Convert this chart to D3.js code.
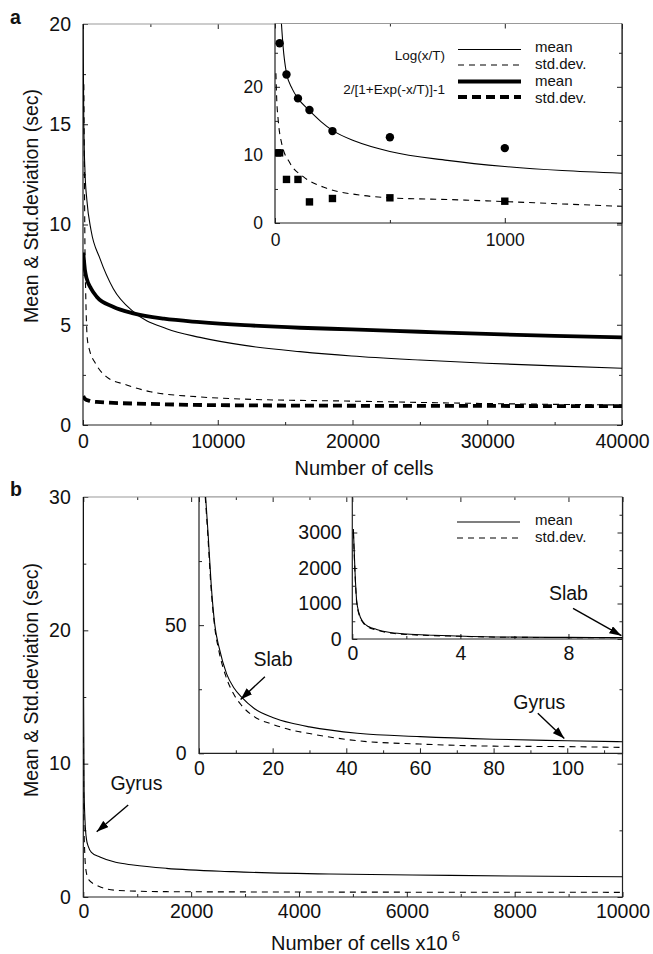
<!DOCTYPE html>
<html lang="en">
<head>
<meta charset="UTF-8">
<title>Mean and std.deviation vs number of cells</title>
<style>
  body { margin: 0; background: #fff; }
  svg { display: block; font-family: "Liberation Sans", Arial, Helvetica, sans-serif; }
</style>
</head>
<body>
<svg id="chart" width="653" height="954"></svg>
<script src="https://d3js.org/d3.v7.min.js"></script>
<script>

// ---------- panel a : main plot ----------
var aXTicks = [0, 10000, 20000, 30000, 40000],
    aXMinor = [5000, 15000, 25000, 35000],
    aYTicks = [0, 5, 10, 15, 20],
    aYMinor = [2.5, 7.5, 12.5, 17.5];

var aLogMean = [[8, 20], [25, 18], [60, 15], [150, 12.6], [290, 11.2], [600, 9.7], [1260, 8.3], [2250, 6.8],
    [3740, 5.65], [6210, 4.8], [8680, 4.37], [12000, 3.97], [16100, 3.66], [19940, 3.44], [25000, 3.24],
    [29900, 3.08], [35000, 2.95], [40000, 2.83]];
var aLogStd = [[60, 17], [100, 13], [150, 8.5], [200, 6.6], [320, 4.3], [500, 3.7], [900, 3.1], [1750, 2.4],
    [3240, 2.0], [5000, 1.66], [8680, 1.4], [12000, 1.29], [20000, 1.19], [30000, 1.07], [40000, 1.0]];
var aSigMean = [[20, 8.6], [60, 8.3], [150, 7.7], [275, 7.3], [600, 6.8], [1015, 6.4], [2230, 5.9],
    [3740, 5.57], [6000, 5.3], [8680, 5.13], [12000, 4.98], [16100, 4.85], [19940, 4.77], [25000, 4.65],
    [29900, 4.54], [35000, 4.45], [40000, 4.37]];
var aSigStd = [[20, 1.45], [150, 1.3], [500, 1.2], [1000, 1.15], [5000, 1.05], [10000, 0.99],
    [20000, 0.96], [30000, 0.95], [40000, 0.94]];

// ---------- panel a : inset ----------
var aiXTicks = [0, 1000], aiXMinor = [500],
    aiYTicks = [0, 10, 20], aiYMinor = [5, 15, 25];

var aiLogMean = [[28, 29.3], [35, 26], [50, 22], [75, 19.7], [100, 18.3], [150, 16.5], [200, 14.9],
    [250, 13.6], [350, 12], [500, 10.5], [750, 9.2], [1000, 8.3], [1250, 7.7], [1510, 7.3]];
var aiLogStd = [[4, 22], [7, 18.6], [14, 15.1], [29, 11.7], [65, 8.8], [123, 6.8], [225, 5.1],
    [370, 4.1], [500, 3.7], [750, 3.45], [1000, 3.15], [1250, 2.8], [1510, 2.45]];
var aiMeanPts = [[20, 26.4], [50, 21.8], [100, 18.3], [150, 16.6], [250, 13.5], [500, 12.6], [1000, 11.0]];
var aiStdPts = [[10, 10.3], [20, 10.3], [50, 6.4], [100, 6.4], [150, 3.1], [250, 3.6], [500, 3.7], [1000, 3.2]];

// ---------- panel b : main plot ----------
var bXTicks = [0, 2000, 4000, 6000, 8000, 10000],
    bXMinor = [1000, 3000, 5000, 7000, 9000],
    bYTicks = [0, 10, 20, 30],
    bYMinor = [5, 15, 25];

var bMean = [[2, 30], [6, 15], [15, 8], [31, 5.8], [60, 4.3], [92, 3.8], [150, 3.35], [308, 3.0],
    [600, 2.6], [925, 2.4], [1540, 2.15], [2780, 1.9], [4570, 1.72], [6100, 1.65], [8000, 1.57], [10000, 1.52]];
var bStd = [[3, 12], [10, 6], [25, 3.5], [50, 2.0], [100, 1.3], [250, 0.88], [620, 0.5], [1540, 0.4],
    [4570, 0.37], [10000, 0.35]];

// ---------- panel b : first inset ----------
var b1XTicks = [0, 20, 40, 60, 80, 100], b1XMinor = [10, 30, 50, 70, 90, 110],
    b1YTicks = [0, 50], b1YMinor = [25, 75];

var b1Mean = [[1.8, 100], [2.5, 85], [3.3, 66], [4.3, 50], [5.5, 41], [7.5, 31], [9.5, 25.5], [11.5, 22],
    [15, 17.5], [20, 14], [25, 11.8], [30, 10.3], [43, 7.8], [60, 6.5], [80, 5.5], [100, 4.9], [115, 4.5]];
var b1Std = [[1.7, 100], [2.4, 85], [3.2, 66], [4.2, 50], [5.4, 40], [7.3, 30], [9.3, 23.4], [11.5, 18.8],
    [15, 14.3], [20, 11.3], [25, 9.1], [30, 7.7], [43, 4.9], [60, 3.6], [80, 2.8], [100, 2.6], [115, 2.3]];

// ---------- panel b : second inset ----------
var b2XTicks = [0, 4, 8], b2XMinor = [2, 6],
    b2YTicks = [0, 1000, 2000, 3000], b2YMinor = [500, 1500, 2500, 3500];

var b2Mean = [[0.04, 3100], [0.1, 1900], [0.16, 1090], [0.25, 720], [0.4, 480], [0.6, 350], [0.9, 270],
    [1.3, 195], [2, 140], [3, 105], [3.85, 85], [5.6, 55], [8, 45], [10, 40]];
var b2Std = [[0.04, 3000], [0.1, 1850], [0.16, 1050], [0.25, 690], [0.4, 460], [0.6, 330], [0.9, 255],
    [1.3, 180], [2, 128], [3, 95], [3.85, 78], [5.6, 50], [8, 40], [10, 35]];

// annotations: [text, label x, label y, arrow start x, arrow start y, tip x, tip y] in data units
var bNotes = [["Gyrus", 985, 8.5, 833, 6.9, 248, 4.9]];
var b1Notes = [["Slab", 20.1, 36.6, 17.9, 29.9, 11.3, 21.0], ["Gyrus", 92.4, 19.9, 92, 15.6, 99.2, 5.8]];
var b2Notes = [["Slab", 8.0, 1280, 8.17, 860, 9.96, 92]];


var svg = d3.select("#chart");

svg.append("defs").append("marker")
    .attr("id", "arrow")
    .attr("markerUnits", "userSpaceOnUse")
    .attr("markerWidth", 12).attr("markerHeight", 8)
    .attr("refX", 12).attr("refY", 4)
    .attr("orient", "auto")
    .append("path").attr("d", "M0,0 L12,4 L0,8 z").attr("fill", "#000");

var clipId = 0;

// draws box, inward ticks on all sides and tick labels; returns a clipped group for the curves
function drawFrame(x, y, o) {
    var x0 = x.range()[0], x1 = x.range()[1], y0 = y.range()[0], y1 = y.range()[1];
    var g = svg.append("g");

    g.append("rect")
        .attr("x", x0).attr("y", y1).attr("width", x1 - x0).attr("height", y0 - y1)
        .attr("fill", "#fff");

    function ax(axis, tr, vals, size, pad, lab) {
        var a = g.append("g").attr("transform", tr)
            .call(axis.tickValues(vals).tickSize(-size).tickPadding(pad)
                .tickFormat(lab ? d3.format("d") : ""));
        a.select(".domain").remove();
        a.selectAll("line").attr("stroke", "#222");
        a.selectAll("text").attr("font-size", o.fs).attr("fill", "#111")
            .style("font-family", "'Liberation Sans', Arial, Helvetica, sans-serif");
    }

    ax(d3.axisBottom(x), "translate(0," + y0 + ")", o.xMajor, 5, o.xPad, true);
    ax(d3.axisBottom(x), "translate(0," + y0 + ")", o.xMinor, 3, 0, false);
    ax(d3.axisTop(x), "translate(0," + y1 + ")", o.xMajor, 5, 0, false);
    ax(d3.axisTop(x), "translate(0," + y1 + ")", o.xMinor, 3, 0, false);
    ax(d3.axisLeft(y), "translate(" + x0 + ",0)", o.yMajor, 5, o.yPad, true);
    ax(d3.axisLeft(y), "translate(" + x0 + ",0)", o.yMinor, 3, 0, false);
    ax(d3.axisRight(y), "translate(" + x1 + ",0)", o.yMajor, 5, 0, false);
    ax(d3.axisRight(y), "translate(" + x1 + ",0)", o.yMinor, 3, 0, false);

    g.append("path")
        .attr("d", "M" + x0 + "," + y1 + "H" + x1)
        .attr("stroke", "#999").attr("stroke-width", 1.2);
    g.append("path")
        .attr("d", "M" + x0 + "," + y1 + "V" + y0 + "H" + x1 + "V" + y1)
        .attr("fill", "none").attr("stroke", "#222").attr("stroke-width", 1.2);

    var id = "clip" + (clipId++);
    svg.select("defs").append("clipPath").attr("id", id)
        .append("rect").attr("x", x0).attr("y", y1).attr("width", x1 - x0).attr("height", y0 - y1);
    var plot = g.append("g").attr("clip-path", "url(#" + id + ")");
    plot.x = x; plot.y = y;
    return plot;
}

function curve(plot, data, width, dash) {
    var line = d3.line()
        .x(function (d) { return plot.x(d[0]); })
        .y(function (d) { return plot.y(d[1]); })
        .curve(d3.curveMonotoneX);
    plot.append("path")
        .datum(data)
        .attr("d", line)
        .attr("fill", "none")
        .attr("stroke", "#000")
        .attr("stroke-width", width)
        .attr("stroke-dasharray", dash || null);
}

function notes(plot, list) {
    list.forEach(function (n) {
        plot.append("text")
            .attr("x", plot.x(n[1])).attr("y", plot.y(n[2]))
            .attr("dy", "0.35em")
            .attr("text-anchor", "middle")
            .attr("font-size", 19.5)
            .attr("fill", "#111")
            .text(n[0]);
        plot.append("line")
            .attr("x1", plot.x(n[3])).attr("y1", plot.y(n[4]))
            .attr("x2", plot.x(n[5])).attr("y2", plot.y(n[6]))
            .attr("stroke", "#000").attr("stroke-width", 1.4)
            .attr("marker-end", "url(#arrow)");
    });
}

function legendRow(x1, x2, y, ty, width, dash, label, tx) {
    svg.append("line")
        .attr("x1", x1).attr("x2", x2).attr("y1", y).attr("y2", y)
        .attr("stroke", "#000").attr("stroke-width", width)
        .attr("stroke-dasharray", dash || null);
    svg.append("text")
        .attr("x", tx).attr("y", ty).attr("dy", "0.35em")
        .attr("font-size", 15).attr("fill", "#111")
        .text(label);
}

function text(x, y, str, size, anchor, weight) {
    return svg.append("text")
        .attr("x", x).attr("y", y)
        .attr("font-size", size)
        .attr("text-anchor", anchor || "start")
        .attr("font-weight", weight || "normal")
        .attr("fill", "#111")
        .text(str);
}

// ================= panel a =================
var ax = d3.scaleLinear().domain([0, 40000]).range([83, 622]),
    ay = d3.scaleLinear().domain([0, 20]).range([425, 24]);
var pa = drawFrame(ax, ay, {xMajor: aXTicks, xMinor: aXMinor, yMajor: aYTicks, yMinor: aYMinor,
    fs: 19.5, xPad: 9, yPad: 12});
curve(pa, aLogMean, 1.1);
curve(pa, aLogStd, 1.1, "6,5");
curve(pa, aSigMean, 3.8);
curve(pa, aSigStd, 3.8, "9,5");

var aix = d3.scaleLinear().domain([0, 1510]).range([275, 622]),
    aiy = d3.scaleLinear().domain([0, 29.3]).range([223, 23.5]);
var pai = drawFrame(aix, aiy, {xMajor: aiXTicks, xMinor: aiXMinor, yMajor: aiYTicks, yMinor: aiYMinor,
    fs: 17.5, xPad: 11, yPad: 12});
curve(pai, aiLogMean, 1.1);
curve(pai, aiLogStd, 1.1, "6,5");
pai.selectAll(".dot").data(aiMeanPts).enter().append("circle")
    .attr("cx", function (d) { return aix(d[0]); })
    .attr("cy", function (d) { return aiy(d[1]); })
    .attr("r", 4.2).attr("fill", "#000");
pai.selectAll(".sq").data(aiStdPts).enter().append("rect")
    .attr("x", function (d) { return aix(d[0]) - 3.7; })
    .attr("y", function (d) { return aiy(d[1]) - 3.7; })
    .attr("width", 7.4).attr("height", 7.4).attr("fill", "#000");

text(445, 55, "Log(x/T)", 13.5, "end").attr("dy", "0.35em");
text(445, 89, "2/[1+Exp(-x/T)]-1", 13.5, "end").attr("dy", "0.35em");
legendRow(458, 521, 49.5, 47, 1.1, null, " mean", 535);
legendRow(458, 521, 65, 64, 1.1, "6,5", "std.dev.", 535);
legendRow(458, 521, 81.5, 80.5, 3.8, null, " mean", 535);
legendRow(458, 521, 97, 97.5, 3.8, "9,5", "std.dev.", 535);

text(10, 24, "a", 19.5, "start", "bold");
svg.append("text")
    .attr("transform", "translate(38,206) rotate(-90)")
    .attr("text-anchor", "middle").attr("font-size", 19.5).attr("fill", "#111")
    .text("Mean & Std.deviation (sec)");
text(364, 474.5, "Number of cells", 20, "middle");

// ================= panel b =================
var bx = d3.scaleLinear().domain([0, 10000]).range([83.3, 622.5]),
    by = d3.scaleLinear().domain([0, 30]).range([897, 497]);
var pb = drawFrame(bx, by, {xMajor: bXTicks, xMinor: bXMinor, yMajor: bYTicks, yMinor: bYMinor,
    fs: 19.5, xPad: 7.5, yPad: 12.5});
curve(pb, bMean, 1.1);
curve(pb, bStd, 1.1, "6,5");

var b1x = d3.scaleLinear().domain([0, 115]).range([199, 622.5]),
    b1y = d3.scaleLinear().domain([0, 100]).range([753.3, 497]);
var pb1 = drawFrame(b1x, b1y, {xMajor: b1XTicks, xMinor: b1XMinor, yMajor: b1YTicks, yMinor: b1YMinor,
    fs: 19.5, xPad: 8, yPad: 12.3});
curve(pb1, b1Mean, 1.1);
curve(pb1, b1Std, 1.1, "6,5");

var b2x = d3.scaleLinear().domain([0, 10]).range([352.3, 622.5]),
    b2y = d3.scaleLinear().domain([0, 4000]).range([639, 497]);
var pb2 = drawFrame(b2x, b2y, {xMajor: b2XTicks, xMinor: b2XMinor, yMajor: b2YTicks, yMinor: b2YMinor,
    fs: 19.5, xPad: 7, yPad: 10.6});
curve(pb2, b2Std, 1.1, "6,5");
curve(pb2, b2Mean, 1.1);

legendRow(457, 520, 522, 519.5, 1.1, null, " mean", 535);
legendRow(457, 520, 538, 537, 1.1, "6,5", "std.dev.", 535);

notes(pb, bNotes);
notes(pb1, b1Notes);
notes(pb2, b2Notes);

text(10, 496, "b", 19.5, "start", "bold");
svg.append("text")
    .attr("transform", "translate(38,680) rotate(-90)")
    .attr("text-anchor", "middle").attr("font-size", 19.5).attr("fill", "#111")
    .text("Mean & Std.deviation (sec)");
var bt = text(271, 950, "Number of cells x10", 20, "start");
bt.append("tspan").attr("dx", 4).attr("dy", -9).attr("font-size", 15).text("6");

</script>
</body>
</html>
